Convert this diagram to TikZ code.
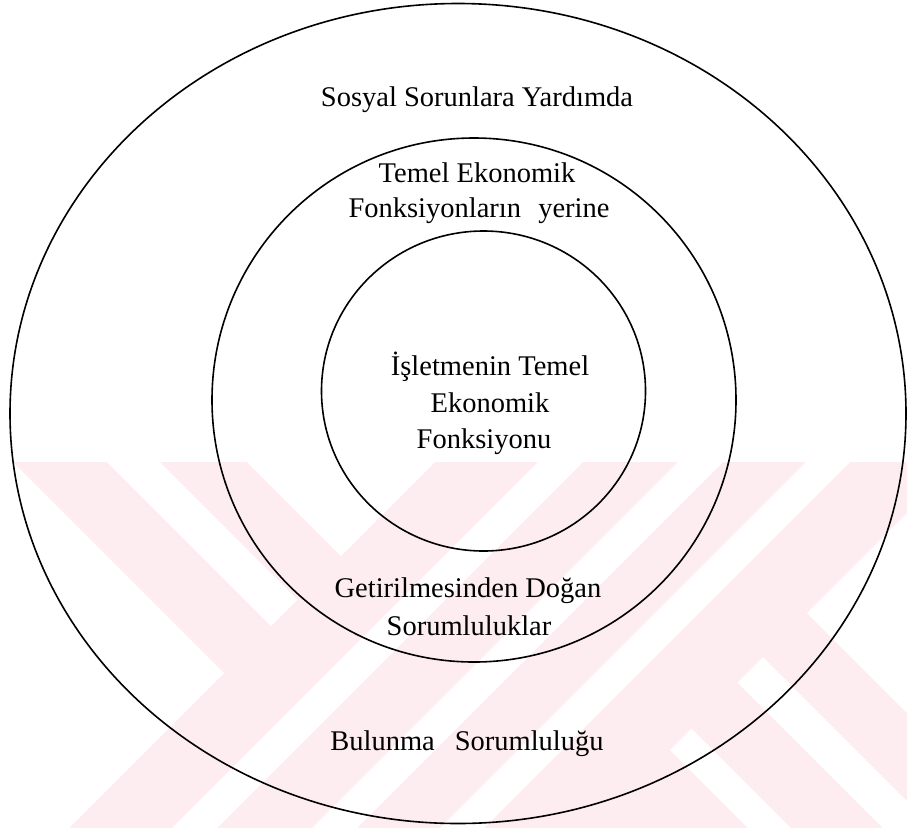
\documentclass[tikz,border=0pt]{standalone}
\usepackage{fontspec}
\setmainfont{Liberation Serif}
\definecolor{wmpink}{RGB}{253,236,240}
\begin{document}
\begin{tikzpicture}[x=1pt,y=-1pt,
  ring/.style={draw=black,line width=1.6pt},
  lbl/.style={anchor=base,inner sep=0pt,font=\fontsize{28.5}{34}\selectfont},
  wmwhite/.style={fill=white,draw=none}]
\useasboundingbox (0,0) rectangle (907,828);
% watermark background
\fill[wmpink] (0,462) rectangle (907,828);
\fill[wmwhite] (0,462) -- (13,462) -- (224,673) -- (69,828) -- (0,828) -- cycle;
\fill[wmwhite] (107,462) -- (160,462) -- (297.5,599.5) -- (271,626) -- cycle;
\fill[wmwhite] (247,462) -- (435,462) -- (341,556) -- cycle;
\fill[wmwhite] (538,462) -- (583,462) -- (217,828) -- (172,828) -- cycle;
\fill[wmwhite] (678,462) -- (723,462) -- (357,828) -- (312,828) -- cycle;
\fill[wmwhite] (806,462) -- (850,462) -- (484,828) -- (440,828) -- cycle;
\fill[wmwhite] (807,613) -- (907,513) -- (907,713) -- cycle;
\fill[wmwhite] (737.5,682.5) -- (763,657) -- (907,801) -- (907,828) -- (883,828) -- cycle;
\fill[wmwhite] (670,750) -- (691.5,728.5) -- (791,828) -- (748,828) -- cycle;
% rings
\draw[ring] (458,413.5) ellipse [x radius=448pt, y radius=410pt];
\draw[ring] (474,400) ellipse [x radius=262pt, y radius=262pt];
\draw[ring] (483.5,391) ellipse [x radius=162pt, y radius=160pt];
% labels
\node[lbl] (outerTop) at (477,106) {Sosyal Sorunlara Yardımda};
\node[lbl] (midTopA) at (477,182) {Temel Ekonomik};
\node[lbl] (midTopB) at (479,217) {Fonksiyonların\hspace{0.6em}yerine};
\node[lbl] (innerA) at (490,375) {İşletmenin Temel};
\node[lbl] (innerB) at (490,412) {Ekonomik};
\node[lbl] (innerC) at (484,448) {Fonksiyonu};
\node[lbl] (midBotA) at (468,597) {Getirilmesinden Doğan};
\node[lbl] (midBotB) at (469,635) {Sorumluluklar};
\node[lbl] (outerBot) at (467,750) {Bulunma\hspace{0.7em}Sorumluluğu};
\end{tikzpicture}
\end{document}
